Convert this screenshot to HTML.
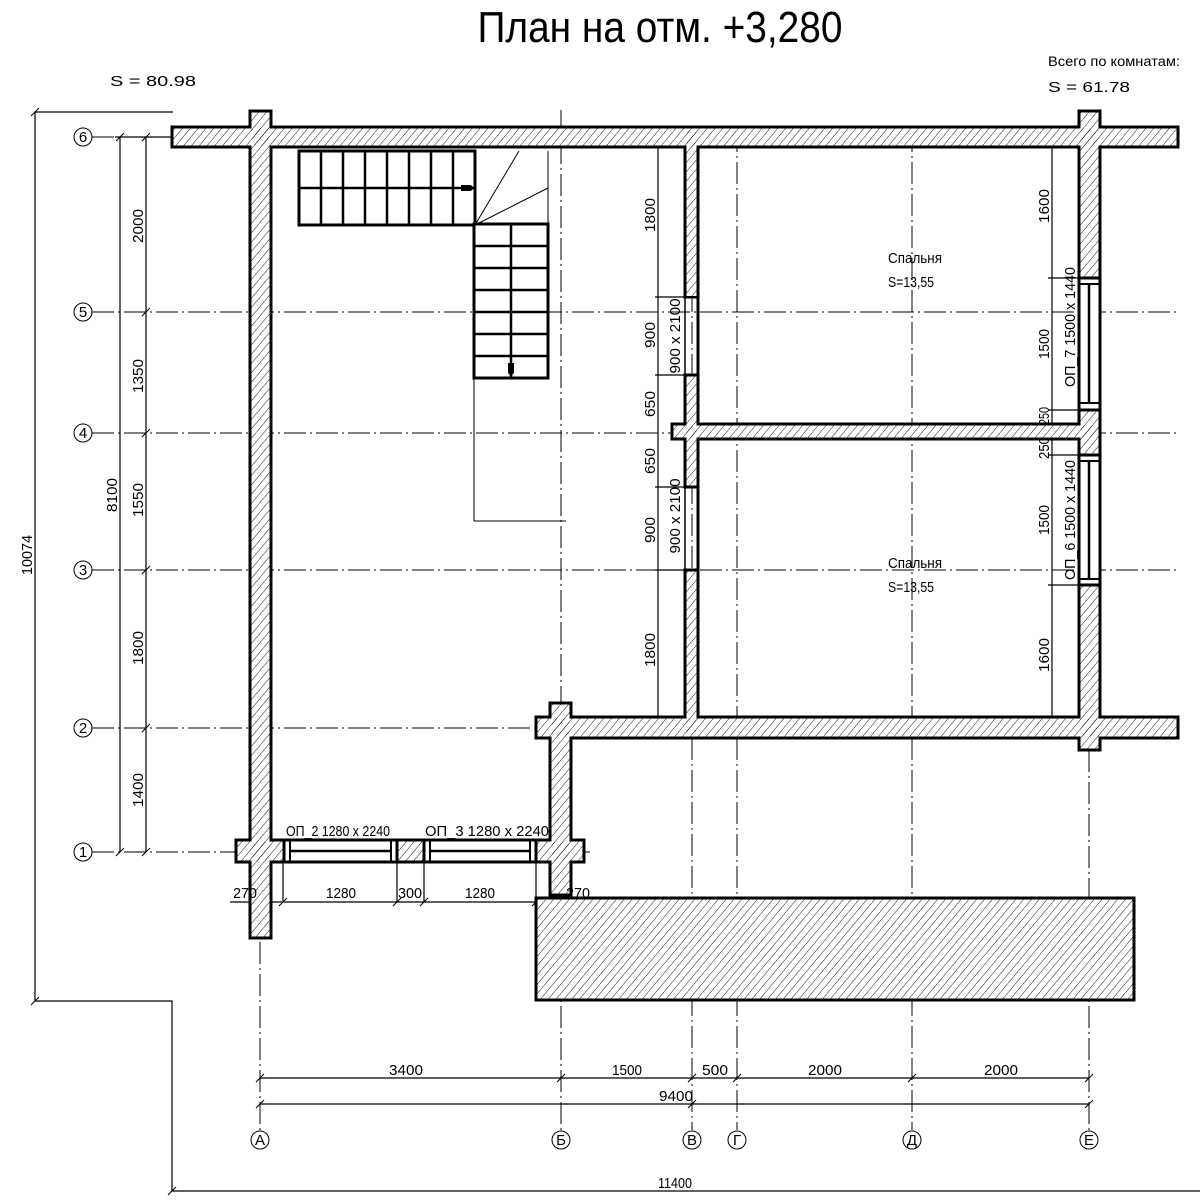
<!DOCTYPE html>
<html><head><meta charset="utf-8"><style>
html,body{margin:0;padding:0;background:#fff}
svg{display:block}
text{font-family:"Liberation Sans Narrow","Liberation Sans",sans-serif;fill:#000}
</style></head><body>
<svg width="1200" height="1200" viewBox="0 0 1200 1200" xmlns="http://www.w3.org/2000/svg">
<defs>
<pattern id="h" patternUnits="userSpaceOnUse" width="6" height="6" patternTransform="rotate(40)">
<line x1="0" y1="0" x2="0" y2="6" stroke="#000" stroke-width="0.9"/>
</pattern>
</defs>
<rect width="1200" height="1200" fill="#fff"/>

<text x="660" y="42" font-size="44" text-anchor="middle" textLength="365" lengthAdjust="spacingAndGlyphs" font-weight="300">План на отм. +3,280</text>
<text x="110" y="86" font-size="15" textLength="86" lengthAdjust="spacingAndGlyphs">S  =  80.98</text>
<text x="1048" y="66" font-size="14" textLength="132" lengthAdjust="spacingAndGlyphs">Всего по комнатам:</text>
<text x="1048" y="92" font-size="15" textLength="82" lengthAdjust="spacingAndGlyphs">S  =  61.78</text>

<g stroke="#000" stroke-width="1" stroke-dasharray="22,4,2,4" fill="none">
<line x1="92" y1="137" x2="1180" y2="137"/>
<line x1="92" y1="312" x2="1180" y2="312"/>
<line x1="92" y1="433" x2="1180" y2="433"/>
<line x1="92" y1="570" x2="1180" y2="570"/>
<line x1="92" y1="728" x2="1180" y2="728"/>
<line x1="92" y1="852" x2="590" y2="852"/>
<line x1="260" y1="110" x2="260" y2="1130"/>
<line x1="561" y1="110" x2="561" y2="1130"/>
<line x1="692" y1="130" x2="692" y2="1130"/>
<line x1="737" y1="130" x2="737" y2="1130"/>
<line x1="912" y1="130" x2="912" y2="1130"/>
<line x1="1089" y1="110" x2="1089" y2="1130"/>
</g>

<g stroke="#000" stroke-width="1" fill="#fff">
<circle cx="83" cy="137" r="9"/><circle cx="83" cy="312" r="9"/><circle cx="83" cy="433" r="9"/>
<circle cx="83" cy="570" r="9"/><circle cx="83" cy="728" r="9"/><circle cx="83" cy="852" r="9"/>
<circle cx="260" cy="1140" r="9"/><circle cx="561" cy="1140" r="9"/><circle cx="692" cy="1140" r="9"/>
<circle cx="737" cy="1140" r="9"/><circle cx="912" cy="1140" r="9"/><circle cx="1089" cy="1140" r="9"/>
</g>
<g font-size="15" text-anchor="middle">
<text x="83" y="142">6</text><text x="83" y="317">5</text><text x="83" y="438">4</text>
<text x="83" y="575">3</text><text x="83" y="733">2</text><text x="83" y="857">1</text>
<text x="260" y="1145">А</text><text x="561" y="1145">Б</text><text x="692" y="1145">В</text>
<text x="737" y="1145">Г</text><text x="912" y="1145">Д</text><text x="1089" y="1145">Е</text>
</g>

<g stroke="#000" stroke-width="1.2" fill="none">
<polyline points="173,112 35,112 35,1001 172,1001 172,1191 1200,1191"/>
<line x1="120" y1="137" x2="120" y2="852"/>
<line x1="146" y1="137" x2="146" y2="852"/>
<line x1="115" y1="137" x2="170" y2="137"/>
<line x1="260" y1="1078" x2="1089" y2="1078"/>
<line x1="260" y1="1104" x2="1089" y2="1104"/>
<line x1="230" y1="902" x2="590" y2="902"/>
<line x1="283" y1="862" x2="283" y2="902"/>
<line x1="397" y1="862" x2="397" y2="902"/>
<line x1="424" y1="862" x2="424" y2="902"/>
<line x1="536" y1="862" x2="536" y2="902"/>
<line x1="658" y1="137" x2="658" y2="728"/>
<line x1="1052" y1="137" x2="1052" y2="728"/>
<line x1="655" y1="297" x2="690" y2="297"/>
<line x1="655" y1="375" x2="690" y2="375"/>
<line x1="655" y1="487" x2="690" y2="487"/>
<line x1="655" y1="570" x2="690" y2="570"/>
<line x1="1048" y1="278" x2="1085" y2="278"/>
<line x1="1048" y1="410" x2="1085" y2="410"/>
<line x1="1048" y1="455" x2="1085" y2="455"/>
<line x1="1048" y1="585" x2="1085" y2="585"/>
<line x1="1052" y1="433" x2="1080" y2="433"/>
</g>
<g stroke="#000" stroke-width="1">
<path d="M116,141 l8,-8 M142,141 l8,-8 M142,316 l8,-8 M142,437 l8,-8 M142,574 l8,-8 M142,732 l8,-8 M116,856 l8,-8 M142,856 l8,-8 M31,116 l8,-8 M31,1005 l8,-8 M168,1195 l8,-8"/>
<path d="M256,1082 l8,-8 M557,1082 l8,-8 M688,1082 l8,-8 M733,1082 l8,-8 M908,1082 l8,-8 M1085,1082 l8,-8 M256,1108 l8,-8 M1085,1108 l8,-8 M688,1108 l8,-8"/>
<path d="M279,906 l8,-8 M393,906 l8,-8 M420,906 l8,-8 M532,906 l8,-8"/>
</g>

<g font-size="15" text-anchor="middle">
<g transform="translate(143,226) rotate(-90)"><text textLength="34" lengthAdjust="spacingAndGlyphs">2000</text></g>
<g transform="translate(143,376) rotate(-90)"><text textLength="34" lengthAdjust="spacingAndGlyphs">1350</text></g>
<g transform="translate(143,500) rotate(-90)"><text textLength="34" lengthAdjust="spacingAndGlyphs">1550</text></g>
<g transform="translate(143,648) rotate(-90)"><text textLength="34" lengthAdjust="spacingAndGlyphs">1800</text></g>
<g transform="translate(143,790) rotate(-90)"><text textLength="34" lengthAdjust="spacingAndGlyphs">1400</text></g>
<g transform="translate(117,495) rotate(-90)"><text textLength="34" lengthAdjust="spacingAndGlyphs">8100</text></g>
<g transform="translate(32,555) rotate(-90)"><text textLength="40" lengthAdjust="spacingAndGlyphs">10074</text></g>
<g transform="translate(655,215) rotate(-90)"><text textLength="34" lengthAdjust="spacingAndGlyphs">1800</text></g>
<g transform="translate(655,335) rotate(-90)"><text textLength="26" lengthAdjust="spacingAndGlyphs">900</text></g>
<g transform="translate(680,336) rotate(-90)"><text textLength="75" lengthAdjust="spacingAndGlyphs">900 x 2100</text></g>
<g transform="translate(655,404) rotate(-90)"><text textLength="26" lengthAdjust="spacingAndGlyphs">650</text></g>
<g transform="translate(655,461) rotate(-90)"><text textLength="26" lengthAdjust="spacingAndGlyphs">650</text></g>
<g transform="translate(655,530) rotate(-90)"><text textLength="26" lengthAdjust="spacingAndGlyphs">900</text></g>
<g transform="translate(680,516) rotate(-90)"><text textLength="75" lengthAdjust="spacingAndGlyphs">900 x 2100</text></g>
<g transform="translate(655,650) rotate(-90)"><text textLength="34" lengthAdjust="spacingAndGlyphs">1800</text></g>
<g transform="translate(1049,206) rotate(-90)"><text textLength="34" lengthAdjust="spacingAndGlyphs">1600</text></g>
<g transform="translate(1049,344) rotate(-90)"><text textLength="30" lengthAdjust="spacingAndGlyphs">1500</text></g>
<g transform="translate(1049,416) rotate(-90)"><text textLength="18" lengthAdjust="spacingAndGlyphs">250</text></g>
<g transform="translate(1049,448) rotate(-90)"><text textLength="22" lengthAdjust="spacingAndGlyphs">250</text></g>
<g transform="translate(1049,520) rotate(-90)"><text textLength="30" lengthAdjust="spacingAndGlyphs">1500</text></g>
<g transform="translate(1049,655) rotate(-90)"><text textLength="34" lengthAdjust="spacingAndGlyphs">1600</text></g>
<g transform="translate(1075,327) rotate(-90)"><text textLength="120" lengthAdjust="spacingAndGlyphs">ОП_7 1500 x 1440</text></g>
<g transform="translate(1075,520) rotate(-90)"><text textLength="120" lengthAdjust="spacingAndGlyphs">ОП_6 1500 x 1440</text></g>
<text x="406" y="1075" textLength="34" lengthAdjust="spacingAndGlyphs">3400</text>
<text x="627" y="1075" textLength="30" lengthAdjust="spacingAndGlyphs">1500</text>
<text x="715" y="1075" textLength="26" lengthAdjust="spacingAndGlyphs">500</text>
<text x="825" y="1075" textLength="34" lengthAdjust="spacingAndGlyphs">2000</text>
<text x="1001" y="1075" textLength="34" lengthAdjust="spacingAndGlyphs">2000</text>
<text x="676" y="1101" textLength="34" lengthAdjust="spacingAndGlyphs">9400</text>
<text x="675" y="1188" textLength="34" lengthAdjust="spacingAndGlyphs">11400</text>
<text x="341" y="898" textLength="30" lengthAdjust="spacingAndGlyphs">1280</text>
<text x="410" y="898" textLength="24" lengthAdjust="spacingAndGlyphs">300</text>
<text x="480" y="898" textLength="30" lengthAdjust="spacingAndGlyphs">1280</text>
<text x="338" y="836" textLength="104" lengthAdjust="spacingAndGlyphs">ОП_2 1280 x 2240</text>
<text x="487" y="836" textLength="124" lengthAdjust="spacingAndGlyphs">ОП_3 1280 x 2240</text>
</g>
<g font-size="15">
<text x="888" y="263" textLength="54" lengthAdjust="spacingAndGlyphs">Спальня</text>
<text x="888" y="287" textLength="46" lengthAdjust="spacingAndGlyphs">S=13,55</text>
<text x="888" y="568" textLength="54" lengthAdjust="spacingAndGlyphs">Спальня</text>
<text x="888" y="592" textLength="46" lengthAdjust="spacingAndGlyphs">S=13,55</text>
</g>

<g fill="#fff" stroke="#000" stroke-width="3">
<rect x="172" y="127" width="1006" height="20"/>
<rect x="250" y="111" width="21" height="827"/>
<rect x="1079" y="111" width="21" height="167"/>
<rect x="1079" y="410" width="21" height="45"/>
<rect x="1079" y="585" width="21" height="165"/>
<rect x="685" y="147" width="13" height="150"/>
<rect x="685" y="375" width="13" height="112"/>
<rect x="685" y="570" width="13" height="147"/>
<rect x="672" y="424" width="428" height="15"/>
<rect x="536" y="717" width="642" height="21"/>
<rect x="550" y="703" width="21" height="192"/>
<rect x="236" y="840" width="48" height="22"/>
<rect x="397" y="840" width="27" height="22"/>
<rect x="536" y="840" width="48" height="22"/>
<rect x="536" y="898" width="598" height="102"/>
</g>
<g fill="#fff" stroke="none">
<rect x="173.5" y="128.5" width="1003" height="17"/>
<rect x="251.5" y="112.5" width="18" height="824"/>
<rect x="1080.5" y="112.5" width="18" height="164"/>
<rect x="1080.5" y="411.5" width="18" height="42"/>
<rect x="1080.5" y="586.5" width="18" height="162"/>
<rect x="686.5" y="130" width="10" height="166"/>
<rect x="686.5" y="376.5" width="10" height="109"/>
<rect x="686.5" y="571.5" width="10" height="160"/>
<rect x="673.5" y="425.5" width="425" height="12"/>
<rect x="537.5" y="718.5" width="639" height="18"/>
<rect x="551.5" y="704.5" width="18" height="189"/>
<rect x="237.5" y="841.5" width="45" height="19"/>
<rect x="398.5" y="841.5" width="24" height="19"/>
<rect x="537.5" y="841.5" width="45" height="19"/>
</g>
<g fill="url(#h)" stroke="none">
<rect x="173.5" y="128.5" width="1003" height="17"/>
<rect x="251.5" y="112.5" width="18" height="824"/>
<rect x="1080.5" y="112.5" width="18" height="164"/>
<rect x="1080.5" y="411.5" width="18" height="42"/>
<rect x="1080.5" y="586.5" width="18" height="162"/>
<rect x="686.5" y="130" width="10" height="166"/>
<rect x="686.5" y="376.5" width="10" height="109"/>
<rect x="686.5" y="571.5" width="10" height="160"/>
<rect x="673.5" y="425.5" width="425" height="12"/>
<rect x="537.5" y="718.5" width="639" height="18"/>
<rect x="551.5" y="704.5" width="18" height="189"/>
<rect x="237.5" y="841.5" width="45" height="19"/>
<rect x="398.5" y="841.5" width="24" height="19"/>
<rect x="537.5" y="841.5" width="45" height="19"/>
<rect x="537.5" y="899.5" width="595" height="99"/>
</g>

<g stroke="#000" fill="none">
<line x1="685" y1="297" x2="685" y2="375" stroke-width="1.5"/>
<line x1="698" y1="297" x2="698" y2="375" stroke-width="3"/>
<line x1="685" y1="487" x2="685" y2="570" stroke-width="1.5"/>
<line x1="698" y1="487" x2="698" y2="570" stroke-width="3"/>
</g>
<g stroke="#000" fill="#fff">
<rect x="1079" y="278" width="21" height="132" stroke-width="3"/>
<rect x="1079" y="455" width="21" height="130" stroke-width="3"/>
<line x1="1089" y1="285" x2="1089" y2="403" stroke-width="2.5"/>
<line x1="1089" y1="462" x2="1089" y2="578" stroke-width="2.5"/>
<path d="M1079,284 H1100 M1079,403 H1100 M1079,461 H1100 M1079,579 H1100" stroke-width="2"/>
</g>
<g stroke="#000" fill="#fff">
<rect x="284" y="840" width="113" height="22" stroke-width="3"/>
<rect x="424" y="840" width="112" height="22" stroke-width="3"/>
<line x1="290" y1="851" x2="391" y2="851" stroke-width="2.5"/>
<line x1="430" y1="851" x2="530" y2="851" stroke-width="2.5"/>
<path d="M290,840 V862 M391,840 V862 M430,840 V862 M530,840 V862" stroke-width="2"/>
</g>

<g stroke="#000" stroke-width="3" fill="#fff">
<rect x="299" y="151" width="176" height="74"/>
<rect x="474" y="224" width="74" height="154"/>
</g>
<g stroke="#000" stroke-width="2.5">
<path d="M321,151 V225 M343,151 V225 M365,151 V225 M387,151 V225 M409,151 V225 M431,151 V225 M453,151 V225 M299,188 H475"/>
<path d="M511,224 V378 M474,246 H548 M474,268 H548 M474,290 H548 M474,312 H548 M474,334 H548 M474,356 H548"/>
</g>
<g stroke="#000" stroke-width="1" fill="none">
<path d="M475,225 L519,151 M475,225 L548,188 M548,151 V224 M474,378 V521 H566"/>
</g>
<path d="M461,185 h10 l3,3 l-3,3 h-10 z" fill="#000"/>
<path d="M508,363 v10 l3,3 l3,-3 v-10 z" fill="#000"/>

<g font-size="15" text-anchor="middle">
<text x="245" y="898" textLength="24" lengthAdjust="spacingAndGlyphs">270</text>
<text x="578" y="898" textLength="24" lengthAdjust="spacingAndGlyphs">270</text>
</g>
</svg>
</body></html>
